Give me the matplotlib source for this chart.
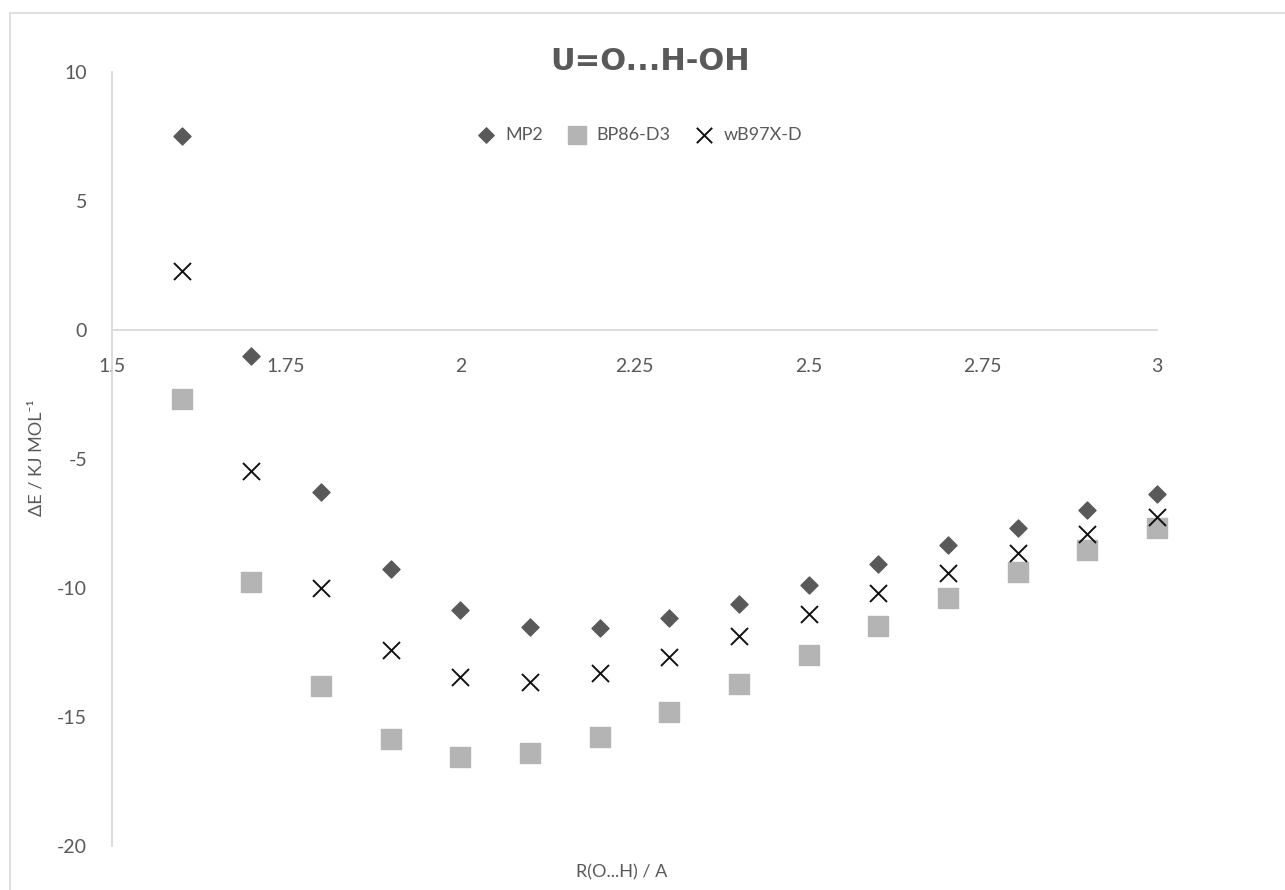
import numpy as np
import matplotlib
matplotlib.use('Agg')
import matplotlib.pyplot as plt
from matplotlib.patches import Rectangle

# distances R(O...H) in Angstrom
r_oh = [1.6, 1.7, 1.8, 1.9, 2.0, 2.1, 2.2, 2.3, 2.4, 2.5, 2.6, 2.7, 2.8, 2.9, 3.0]

# interaction energies in kJ/mol
mp2 = [7.52, -1.0, -6.28, -9.26, -10.85, -11.5, -11.55, -11.16, -10.62, -9.88,
       -9.07, -8.33, -7.67, -6.98, -6.36]
bp86_d3 = [-2.67, -9.77, -13.8, -15.85, -16.55, -16.4, -15.78, -14.8, -13.72, -12.6,
           -11.47, -10.39, -9.38, -8.53, -7.67]
wb97x_d = [2.29, -5.47, -10.0, -12.4, -13.45, -13.64, -13.3, -12.67, -11.86, -11.0,
           -10.19, -9.42, -8.64, -7.9, -7.25]

x_ticks = [1.5, 1.75, 2.0, 2.25, 2.5, 2.75, 3.0]
x_tick_labels = ['1.5', '1.75', '2', '2.25', '2.5', '2.75', '3']
y_ticks = [-20, -15, -10, -5, 0, 5, 10]

plt.rcParams['font.family'] = ['Lato', 'DejaVu Sans']
plt.rcParams['axes.unicode_minus'] = False
txt = '#595959'

fig = plt.figure(figsize=(12.85, 8.9), dpi=100)
ax = fig.add_axes([112 / 1285, 1 - 846 / 890, (1157 - 112) / 1285, (846 - 72) / 890])

# light border around chart area
fig.patches.append(Rectangle((10 / 1285, -0.1), 1.2, 1 - 13 / 890 + 0.1,
                             transform=fig.transFigure, fill=False,
                             edgecolor='#d9d9d9', linewidth=1.2))

ax.scatter(r_oh, mp2, marker='D', s=75, color='#595959', label='MP2',
           zorder=3, clip_on=False)
ax.scatter(r_oh, bp86_d3, marker='s', s=190, color='#b4b4b4', label='BP86-D3',
           zorder=3, clip_on=False)
ax.scatter(r_oh, wb97x_d, marker='x', s=150, color='#111111', linewidths=1.4,
           label='wB97X-D', zorder=3, clip_on=False)

ax.set_xlim(1.5, 3.0)
ax.set_ylim(-20, 10)
ax.set_xticks(x_ticks)
ax.set_xticklabels(x_tick_labels)
ax.set_yticks(y_ticks)

for s in ['top', 'right']:
    ax.spines[s].set_visible(False)
ax.spines['bottom'].set_position(('data', 0))
ax.spines['bottom'].set_color('#d9d9d9')
ax.spines['left'].set_color('#d9d9d9')
ax.spines['bottom'].set_linewidth(1.3)
ax.spines['left'].set_linewidth(1.3)
ax.tick_params(axis='x', length=0, pad=20, labelsize=14, labelcolor=txt)
ax.tick_params(axis='y', length=0, pad=18, labelsize=14, labelcolor=txt)

fig.text(37 / 1285, 1 - 458 / 890, 'ΔE / KJ MOL⁻¹', fontsize=13, color=txt,
         ha='center', va='center', rotation=90)
fig.text(622 / 1285, 1 - 872 / 890, 'R(O...H) / A', fontsize=13, color=txt,
         ha='center', va='center')
fig.text(650 / 1285, 1 - 62 / 890, 'U=O...H-OH', fontsize=22, fontweight='bold',
         color=txt, ha='center', va='center', family='DejaVu Sans')

leg = ax.legend(loc='center', bbox_to_anchor=(635 / 1285, 1 - 135 / 890),
                bbox_transform=fig.transFigure, ncol=3, frameon=False,
                fontsize=13, handletextpad=0.05, columnspacing=0.9,
                markerscale=0.9)
for t in leg.get_texts():
    t.set_color(txt)

fig.savefig('out.png', dpi=100)
